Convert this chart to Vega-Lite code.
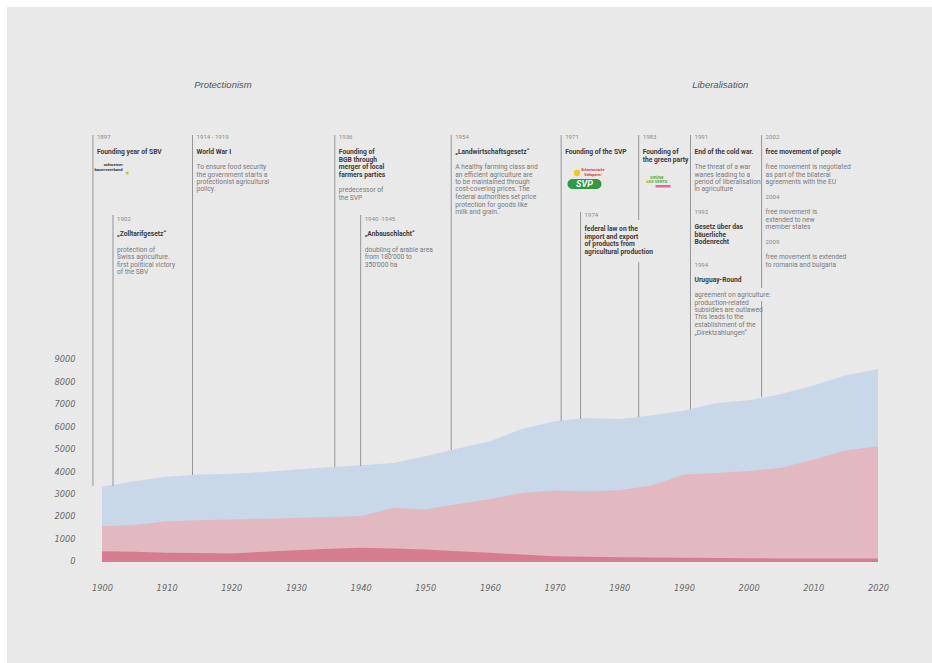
{
  "$schema": "https://vega.github.io/schema/vega-lite/v6.json",
  "width": 925,
  "height": 656,
  "autosize": {"type": "none"},
  "padding": {"left": 7, "top": 7, "right": 0, "bottom": 0},
  "background": "white",
  "config": {"view": {"fill": "#e9e9e9", "stroke": null}},
  "datasets": {
    "total": [
      {"x": 1900, "y": 3350}, {"x": 1905, "y": 3590}, {"x": 1910, "y": 3785}, {"x": 1915, "y": 3890},
      {"x": 1920, "y": 3920}, {"x": 1925, "y": 4000}, {"x": 1930, "y": 4110}, {"x": 1935, "y": 4215},
      {"x": 1940, "y": 4300}, {"x": 1945, "y": 4400}, {"x": 1950, "y": 4700}, {"x": 1955, "y": 5040},
      {"x": 1960, "y": 5370}, {"x": 1965, "y": 5920}, {"x": 1970, "y": 6260}, {"x": 1975, "y": 6400},
      {"x": 1980, "y": 6360}, {"x": 1985, "y": 6510}, {"x": 1990, "y": 6730}, {"x": 1995, "y": 7070},
      {"x": 2000, "y": 7190}, {"x": 2005, "y": 7470}, {"x": 2010, "y": 7840}, {"x": 2015, "y": 8300},
      {"x": 2020, "y": 8580}
    ],
    "mid": [
      {"x": 1900, "y": 1590}, {"x": 1905, "y": 1640}, {"x": 1910, "y": 1815}, {"x": 1915, "y": 1860},
      {"x": 1920, "y": 1890}, {"x": 1925, "y": 1925}, {"x": 1930, "y": 1960}, {"x": 1935, "y": 2000},
      {"x": 1940, "y": 2035}, {"x": 1945, "y": 2400}, {"x": 1950, "y": 2330}, {"x": 1955, "y": 2580},
      {"x": 1960, "y": 2800}, {"x": 1965, "y": 3070}, {"x": 1970, "y": 3180}, {"x": 1975, "y": 3150},
      {"x": 1980, "y": 3190}, {"x": 1985, "y": 3400}, {"x": 1990, "y": 3890}, {"x": 1995, "y": 3960},
      {"x": 2000, "y": 4040}, {"x": 2005, "y": 4190}, {"x": 2010, "y": 4560}, {"x": 2015, "y": 4960},
      {"x": 2020, "y": 5150}
    ],
    "low": [
      {"x": 1900, "y": 480}, {"x": 1905, "y": 450}, {"x": 1910, "y": 410}, {"x": 1915, "y": 395},
      {"x": 1920, "y": 380}, {"x": 1925, "y": 450}, {"x": 1930, "y": 525}, {"x": 1935, "y": 590},
      {"x": 1940, "y": 630}, {"x": 1945, "y": 600}, {"x": 1950, "y": 555}, {"x": 1955, "y": 480},
      {"x": 1960, "y": 410}, {"x": 1965, "y": 330}, {"x": 1970, "y": 260}, {"x": 1975, "y": 235},
      {"x": 1980, "y": 215}, {"x": 1985, "y": 200}, {"x": 1990, "y": 185}, {"x": 1995, "y": 175},
      {"x": 2000, "y": 170}, {"x": 2005, "y": 160}, {"x": 2010, "y": 155}, {"x": 2015, "y": 155},
      {"x": 2020, "y": 155}
    ],
    "lines": [
      {"x": 1898.6, "y": 18978, "y2": 3378},
      {"x": 1901.7, "y": 15422, "y2": 3378},
      {"x": 1914, "y": 18978, "y2": 3867},
      {"x": 1936, "y": 18978, "y2": 4222},
      {"x": 1940, "y": 15422, "y2": 4267},
      {"x": 1954, "y": 18978, "y2": 4978},
      {"x": 1971, "y": 18978, "y2": 6267},
      {"x": 1974, "y": 15556, "y2": 6356},
      {"x": 1983, "y": 18978, "y2": 15200},
      {"x": 1983, "y": 13333, "y2": 6444},
      {"x": 1991, "y": 18978, "y2": 6800},
      {"x": 2002, "y": 18978, "y2": 12178},
      {"x": 2002, "y": 11600, "y2": 7333}
    ],
    "notes": [
      {"x": 1898.6, "y": 18911, "t": "1897", "k": "yr"},
      {"x": 1898.6, "y": 18222, "t": "Founding year of SBV", "k": "ti"},
      {"x": 1914, "y": 18911, "t": "1914 - 1919", "k": "yr"},
      {"x": 1914, "y": 18222, "t": "World War I", "k": "ti"},
      {"x": 1914, "y": 17556, "t": "To ensure food security", "k": "bo"},
      {"x": 1914, "y": 17222, "t": "the government starts a", "k": "bo"},
      {"x": 1914, "y": 16889, "t": "protectionist agricultural", "k": "bo"},
      {"x": 1914, "y": 16556, "t": "policy.", "k": "bo"},
      {"x": 1901.7, "y": 15244, "t": "1902", "k": "yr"},
      {"x": 1901.7, "y": 14556, "t": "„Zolltarifgesetz“", "k": "ti"},
      {"x": 1901.7, "y": 13889, "t": "protection of", "k": "bo"},
      {"x": 1901.7, "y": 13556, "t": "Swiss agriculture.", "k": "bo"},
      {"x": 1901.7, "y": 13222, "t": "first political victory", "k": "bo"},
      {"x": 1901.7, "y": 12889, "t": "of the SBV", "k": "bo"},
      {"x": 1936, "y": 18911, "t": "1936", "k": "yr"},
      {"x": 1936, "y": 18222, "t": "Founding of", "k": "ti"},
      {"x": 1936, "y": 17889, "t": "BGB through", "k": "ti"},
      {"x": 1936, "y": 17556, "t": "merger of local", "k": "ti"},
      {"x": 1936, "y": 17222, "t": "farmers parties", "k": "ti"},
      {"x": 1936, "y": 16533, "t": "predecessor of", "k": "bo"},
      {"x": 1936, "y": 16200, "t": "the SVP", "k": "bo"},
      {"x": 1940, "y": 15244, "t": "1940 -1945", "k": "yr"},
      {"x": 1940, "y": 14556, "t": "„Anbauschlacht“", "k": "ti"},
      {"x": 1940, "y": 13889, "t": "doubling of arable area", "k": "bo"},
      {"x": 1940, "y": 13556, "t": "from 180'000 to", "k": "bo"},
      {"x": 1940, "y": 13222, "t": "350'000 ha", "k": "bo"},
      {"x": 1954, "y": 18911, "t": "1954", "k": "yr"},
      {"x": 1954, "y": 18222, "t": "„Landwirtschaftsgesetz“", "k": "ti"},
      {"x": 1954, "y": 17556, "t": "A healthy farming class and", "k": "bo"},
      {"x": 1954, "y": 17222, "t": "an efficient agriculture are", "k": "bo"},
      {"x": 1954, "y": 16889, "t": "to be maintained through", "k": "bo"},
      {"x": 1954, "y": 16556, "t": "cost-covering prices. The", "k": "bo"},
      {"x": 1954, "y": 16222, "t": "federal authorities set price", "k": "bo"},
      {"x": 1954, "y": 15889, "t": "protection for goods like", "k": "bo"},
      {"x": 1954, "y": 15556, "t": "milk and grain.", "k": "bo"},
      {"x": 1971, "y": 18911, "t": "1971", "k": "yr"},
      {"x": 1971, "y": 18222, "t": "Founding of the SVP", "k": "ti"},
      {"x": 1974, "y": 15422, "t": "1974", "k": "yr"},
      {"x": 1974, "y": 14787, "t": "federal law on the", "k": "ti"},
      {"x": 1974, "y": 14453, "t": "import and export", "k": "ti"},
      {"x": 1974, "y": 14120, "t": "of products from", "k": "ti"},
      {"x": 1974, "y": 13787, "t": "agricultural production", "k": "ti"},
      {"x": 1983, "y": 18911, "t": "1983", "k": "yr"},
      {"x": 1983, "y": 18222, "t": "Founding of", "k": "ti"},
      {"x": 1983, "y": 17889, "t": "the green party", "k": "ti"},
      {"x": 1991, "y": 18911, "t": "1991", "k": "yr"},
      {"x": 1991, "y": 18222, "t": "End of the cold war.", "k": "ti"},
      {"x": 1991, "y": 17556, "t": "The threat of a war", "k": "bo"},
      {"x": 1991, "y": 17222, "t": "wanes leading to a", "k": "bo"},
      {"x": 1991, "y": 16889, "t": "period of liberalisation", "k": "bo"},
      {"x": 1991, "y": 16556, "t": "in agriculture", "k": "bo"},
      {"x": 1991, "y": 15542, "t": "1992", "k": "yr"},
      {"x": 1991, "y": 14876, "t": "Gesetz über das", "k": "ti"},
      {"x": 1991, "y": 14547, "t": "bäuerliche", "k": "ti"},
      {"x": 1991, "y": 14222, "t": "Bodenrecht", "k": "ti"},
      {"x": 1991, "y": 13213, "t": "1994", "k": "yr"},
      {"x": 1991, "y": 12547, "t": "Uruguay-Round", "k": "ti"},
      {"x": 1991, "y": 11867, "t": "agreement on agriculture:", "k": "bo"},
      {"x": 1991, "y": 11533, "t": "production-related", "k": "bo"},
      {"x": 1991, "y": 11200, "t": "subsidies are outlawed", "k": "bo"},
      {"x": 1991, "y": 10867, "t": "This leads to the", "k": "bo"},
      {"x": 1991, "y": 10533, "t": "establishment of the", "k": "bo"},
      {"x": 1991, "y": 10200, "t": "„Direktzahlungen“", "k": "bo"},
      {"x": 2002, "y": 18911, "t": "2002", "k": "yr"},
      {"x": 2002, "y": 18222, "t": "free movement of people", "k": "ti"},
      {"x": 2002, "y": 17556, "t": "free movement is negotiated", "k": "bo"},
      {"x": 2002, "y": 17222, "t": "as part of the bilateral", "k": "bo"},
      {"x": 2002, "y": 16889, "t": "agreements with the EU", "k": "bo"},
      {"x": 2002, "y": 16209, "t": "2004", "k": "yr"},
      {"x": 2002, "y": 15556, "t": "free movement is", "k": "bo"},
      {"x": 2002, "y": 15222, "t": "extended to new", "k": "bo"},
      {"x": 2002, "y": 14889, "t": "member states", "k": "bo"},
      {"x": 2002, "y": 14209, "t": "2009", "k": "yr"},
      {"x": 2002, "y": 13556, "t": "free movement is extended", "k": "bo"},
      {"x": 2002, "y": 13222, "t": "to romania and bulgaria", "k": "bo"}
    ],
    "heads": [
      {"x": 1918.7, "y": 21200, "t": "Protectionism"},
      {"x": 1995.6, "y": 21200, "t": "Liberalisation"}
    ],
    "sbv": [
      {"x": 1903.2, "y": 17644, "t": "schweizer"},
      {"x": 1903.2, "y": 17436, "t": "bauernverband"}
    ],
    "sbvflower": [{"x": 1903.9, "y": 17289}],
    "svpbar": [{"x": 1971.98, "x2": 1977.24, "y": 16578, "y2": 17022}],
    "svptext": [{"x": 1974.61, "y": 16800, "t": "SVP"}],
    "svpred": [
      {"x": 1975.9, "y": 17422, "t": "Schweizerische"},
      {"x": 1975.9, "y": 17222, "t": "Volkspartei"}
    ],
    "svpsun": [{"x": 1973.45, "y": 17289}],
    "greens": [
      {"x": 1985.8, "y": 17067, "t": "GRÜNE"},
      {"x": 1985.8, "y": 16867, "t": "LES VERTS"}
    ],
    "greenbar": [{"x": 1985.6, "x2": 1987.9, "y": 16644, "y2": 16756}]
  },
  "encoding": {
    "x": {
      "field": "x", "type": "quantitative",
      "scale": {"domain": [1885.31, 2028.35], "nice": false, "zero": false},
      "axis": {
        "values": [1900, 1910, 1920, 1930, 1940, 1950, 1960, 1970, 1980, 1990, 2000, 2010, 2020],
        "format": "d", "title": null, "grid": false, "domain": false, "ticks": false, "tickSize": 0,
        "labelFont": "DejaVu Sans", "labelFontStyle": "italic", "labelFontSize": 8.3, "labelColor": "#6a6a6a",
        "labelBaseline": "middle", "labelPadding": 0, "offset": -75, "labelFlush": false, "labelOverlap": false
      }
    },
    "y": {
      "field": "y", "type": "quantitative",
      "scale": {"domain": [-4489, 24667], "nice": false, "zero": false},
      "axis": {
        "values": [0, 1000, 2000, 3000, 4000, 5000, 6000, 7000, 8000, 9000],
        "format": "d", "title": null, "grid": false, "domain": false, "ticks": false, "tickSize": 0,
        "labelFont": "DejaVu Sans", "labelFontStyle": "italic", "labelFontSize": 8.3, "labelColor": "#6a6a6a",
        "labelAlign": "right", "labelPadding": 0, "offset": -68, "labelOverlap": false
      }
    }
  },
  "layer": [
    {"data": {"name": "total"}, "mark": {"type": "area", "color": "#c9d8e9", "opacity": 1}},
    {"data": {"name": "mid"}, "mark": {"type": "area", "color": "#e2b8c1", "opacity": 1}},
    {"data": {"name": "low"}, "mark": {"type": "area", "color": "#d57c90", "opacity": 1}},
    {
      "data": {"name": "lines"},
      "mark": {"type": "rule", "color": "#8c8c8c", "strokeWidth": 0.9},
      "encoding": {"y2": {"field": "y2"}}
    },
    {
      "data": {"name": "notes"},
      "transform": [{"filter": "datum.k === 'yr'"}],
      "mark": {"type": "text", "align": "left", "baseline": "middle", "dx": 4, "font": "Roboto", "fontSize": 6.1, "color": "#8a8a8a"},
      "encoding": {"text": {"field": "t"}}
    },
    {
      "data": {"name": "notes"},
      "transform": [{"filter": "datum.k === 'ti'"}],
      "mark": {"type": "text", "align": "left", "baseline": "middle", "dx": 4, "font": "Roboto", "fontSize": 6.7, "fontWeight": "bold", "color": "#3c3c3c"},
      "encoding": {"text": {"field": "t"}}
    },
    {
      "data": {"name": "notes"},
      "transform": [{"filter": "datum.k === 'bo'"}],
      "mark": {"type": "text", "align": "left", "baseline": "middle", "dx": 4, "font": "Roboto", "fontSize": 6.7, "color": "#7a7a7a"},
      "encoding": {"text": {"field": "t"}}
    },
    {
      "data": {"name": "heads"},
      "mark": {"type": "text", "align": "center", "baseline": "middle", "font": "Liberation Sans", "fontStyle": "italic", "fontSize": 9.5, "color": "#555555"},
      "encoding": {"text": {"field": "t"}}
    },
    {
      "data": {"name": "sbv"},
      "mark": {"type": "text", "align": "right", "baseline": "middle", "font": "Roboto", "fontSize": 4.2, "fontWeight": "bold", "color": "#333333"},
      "encoding": {"text": {"field": "t"}}
    },
    {
      "data": {"name": "sbvflower"},
      "mark": {"type": "point", "shape": "circle", "filled": true, "size": 10, "color": "#b6c93a", "opacity": 1}
    },
    {
      "data": {"name": "svpbar"},
      "mark": {"type": "rect", "color": "#2f9a41", "cornerRadius": 5},
      "encoding": {"x2": {"field": "x2"}, "y2": {"field": "y2"}}
    },
    {
      "data": {"name": "svptext"},
      "mark": {"type": "text", "align": "center", "baseline": "middle", "font": "Roboto", "fontSize": 9, "fontWeight": "bold", "fontStyle": "italic", "color": "white"},
      "encoding": {"text": {"field": "t"}}
    },
    {
      "data": {"name": "svpred"},
      "mark": {"type": "text", "align": "center", "baseline": "middle", "font": "Roboto", "fontSize": 3.4, "fontStyle": "italic", "fontWeight": "bold", "color": "#e0302e"},
      "encoding": {"text": {"field": "t"}}
    },
    {
      "data": {"name": "svpsun"},
      "mark": {"type": "point", "shape": "circle", "filled": true, "size": 40, "color": "#f2c81c", "opacity": 1}
    },
    {
      "data": {"name": "greens"},
      "mark": {"type": "text", "align": "center", "baseline": "middle", "font": "Roboto", "fontSize": 4.2, "fontWeight": "bold", "color": "#5fa83a"},
      "encoding": {"text": {"field": "t"}}
    },
    {
      "data": {"name": "greenbar"},
      "mark": {"type": "rect", "color": "#e4679a"},
      "encoding": {"x2": {"field": "x2"}, "y2": {"field": "y2"}}
    }
  ]
}
